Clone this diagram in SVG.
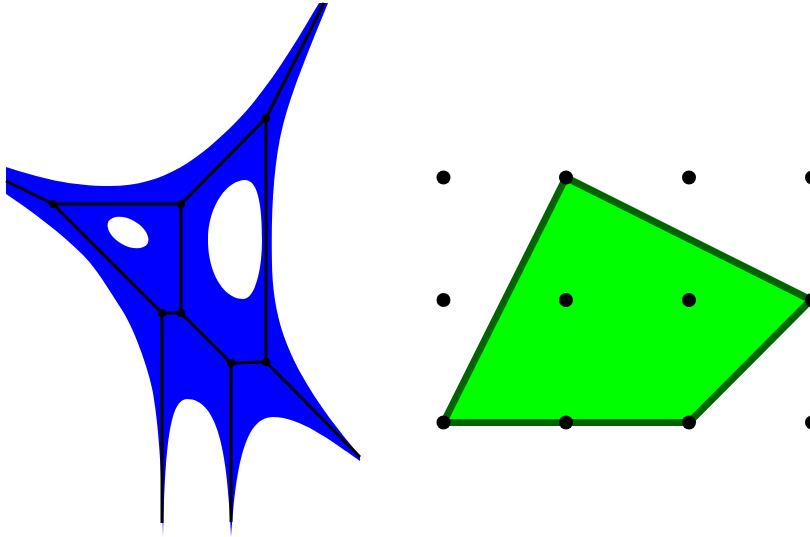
<svg xmlns="http://www.w3.org/2000/svg" width="810" height="537" viewBox="0 0 810 537">
<style>
.e{stroke:#000;stroke-width:3;fill:none}
.n{fill:#000}
.d{fill:#000}
</style>
<rect width="810" height="537" fill="#fff"/>
<g id="surface">
<path fill="#0000ff" fill-rule="evenodd" d="M6 167C40 178 70 186 110 186C165 186 200 158 236 122C270 87 297 40 319 3L328 3C310 47 292 90 283 125C273 165 271 215 272 265C273 310 283 340 300 372C318 405 340 432 360 456L360 461C330 440 300 417 273 417C245 417 236 465 231 537C228 470 222 399 187 399C170 399 165 445 163 537C162 500 161 440 153 393C149 370 133 325 120 307C108 288 96 268 83 255C60 232 30 210 6 194Z
M245 180C228 180 208 205 208 240C208 275 225 299 243 299C255 299 262 270 262 240C262 205 258 180 245 180Z
M108.500 221.300A22.500 13.500 30 0 1 147.500 243.700A22.500 13.500 30 0 1 108.500 221.300Z"/>
</g>
<g id="connectors">
<line class="e" x1="6" y1="181" x2="53" y2="204"/>
<line class="e" x1="53" y1="204" x2="181" y2="204"/>
<line class="e" x1="181" y1="204" x2="266" y2="118"/>
<line class="e" x1="266" y1="118" x2="324" y2="3"/>
<line class="e" x1="266" y1="118" x2="266" y2="362"/>
<line class="e" x1="181" y1="204" x2="181" y2="313"/>
<line class="e" x1="53" y1="204" x2="162" y2="313"/>
<line class="e" x1="162" y1="313" x2="181" y2="313"/>
<line class="e" x1="181" y1="313" x2="231" y2="363"/>
<line class="e" x1="231" y1="363" x2="266" y2="362"/>
<line class="e" x1="266" y1="362" x2="360" y2="457"/>
<line class="e" x1="162" y1="313" x2="162" y2="523"/>
<line class="e" x1="231" y1="363" x2="231" y2="522"/>
</g>
<g id="n1"><circle class="n" cx="53" cy="204" r="4"/></g>
<g id="n2"><circle class="n" cx="181" cy="204" r="4"/></g>
<g id="n3"><circle class="n" cx="266" cy="118" r="4"/></g>
<g id="n4"><circle class="n" cx="162" cy="313" r="4"/></g>
<g id="n5"><circle class="n" cx="181" cy="313" r="4"/></g>
<g id="n6"><circle class="n" cx="231" cy="363" r="4"/></g>
<g id="n7"><circle class="n" cx="266" cy="362" r="4"/></g>
<g id="polygon">
<path fill="#00ff00" stroke="#006400" stroke-width="7" d="M443.500 422.500L566 177.500L811 300L689 422.500Z"/>
</g>
<g id="lattice">
<circle class="d" cx="443.500" cy="177.500" r="7"/>
<circle class="d" cx="566" cy="177.500" r="7"/>
<circle class="d" cx="689" cy="177.500" r="7"/>
<circle class="d" cx="812" cy="177.500" r="7"/>
<circle class="d" cx="443.500" cy="300" r="7"/>
<circle class="d" cx="566" cy="300" r="7"/>
<circle class="d" cx="689" cy="300" r="7"/>
<circle class="d" cx="812" cy="300" r="7"/>
<circle class="d" cx="443.500" cy="422.500" r="7"/>
<circle class="d" cx="566" cy="422.500" r="7"/>
<circle class="d" cx="689" cy="422.500" r="7"/>
<circle class="d" cx="812" cy="422.500" r="7"/>
</g>
</svg>
